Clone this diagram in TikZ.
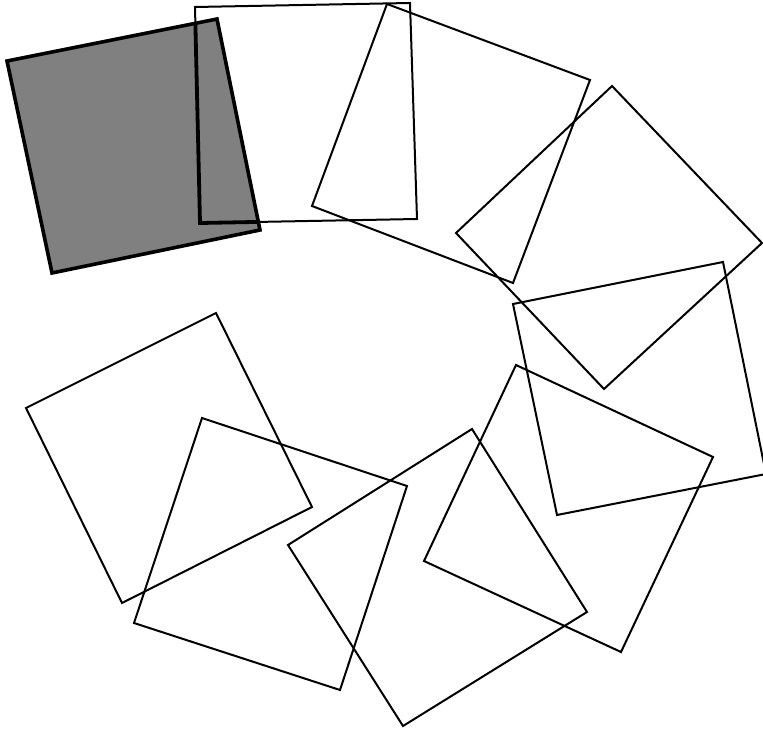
\documentclass[tikz,border=0pt]{standalone}
\begin{document}
\begin{tikzpicture}[x=1pt,y=-1pt,
  sq/.style={draw=black,line width=2pt,line join=miter},
  graysq/.style={draw=black,line width=3.6pt,fill=black!50,line join=miter},
  inner/.style={draw=black,line width=3.8pt,line join=miter}]
\useasboundingbox (0,0) rectangle (763,730);
% gray square
\coordinate (g1) at (7,61); \coordinate (g2) at (217,19);
\coordinate (g3) at (260,230); \coordinate (g4) at (52,273);
\path[graysq] (g1) -- (g2) -- (g3) -- (g4) -- cycle;
% square 2
\coordinate (b1) at (195,7); \coordinate (b2) at (410,3);
\coordinate (b3) at (417,219); \coordinate (b4) at (200,223);
\path[sq] (b1) -- (b2) -- (b3) -- (b4) -- cycle;
\begin{scope}
  \clip (g1) -- (g2) -- (g3) -- (g4) -- cycle;
  \path[inner] (b1) -- (b2) -- (b3) -- (b4) -- cycle;
\end{scope}
% square 3
\path[sq] (387,4) -- (590,80) -- (513,283) -- (312,206) -- cycle;
% square 4
\path[sq] (612,86) -- (762,243) -- (604,389) -- (456,233) -- cycle;
% square 5
\path[sq] (513,304) -- (723,262) -- (766,474) -- (557,515) -- cycle;
% square 6
\path[sq] (516,365) -- (713,457) -- (621,652) -- (424,561) -- cycle;
% square 7
\path[sq] (472,429) -- (587,612) -- (403,726) -- (288,545) -- cycle;
% square 8
\path[sq] (202,418) -- (407,486) -- (340,690) -- (134,623) -- cycle;
% square 9
\path[sq] (216,313) -- (312,507) -- (122,603) -- (26,408) -- cycle;
\end{tikzpicture}
\end{document}
